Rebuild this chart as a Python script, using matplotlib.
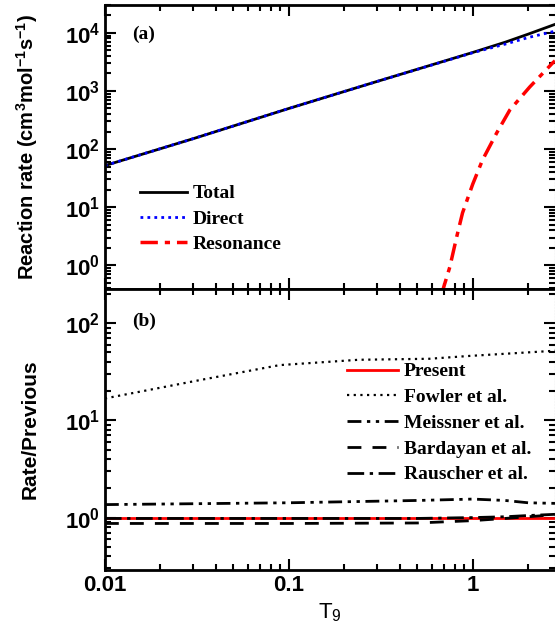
import numpy as np
import matplotlib
matplotlib.use("Agg")
import matplotlib.pyplot as plt

plt.rcParams['font.family'] = 'Liberation Sans'
plt.rcParams['mathtext.fontset'] = 'custom'
plt.rcParams['mathtext.rm'] = 'Liberation Sans'
plt.rcParams['mathtext.bf'] = 'Liberation Sans:bold'
plt.rcParams['mathtext.default'] = 'bf'

# panel (a): reaction rates
t_tot = [0.01, 0.03, 0.1, 0.3, 1.0, 1.5, 2.0, 2.8]
total = [52, 150, 500, 1450, 4600, 6900, 9500, 14000]
t_dir = [0.01, 0.03, 0.1, 0.3, 1.0, 1.5, 2.0, 2.8]
direct = [52, 150, 500, 1450, 4550, 6400, 8300, 10700]
t_res = [0.68, 0.69, 0.75, 0.82, 0.88, 1.0, 1.13, 1.35, 1.59, 2.04, 2.72, 2.8]
resonance = [0.3, 0.39, 0.93, 3.2, 8, 25, 65, 190, 470, 1170, 3040, 3300]

# panel (b): ratios to previous rates
t_b = [0.01, 0.033, 0.089, 0.24, 0.58, 0.96, 2.8]
present = [1, 1, 1, 1, 1, 1, 1]
fowler = [16.8, 26, 37, 42, 43, 46, 52]
t_m = [0.01, 0.1, 0.5, 1.0, 1.5, 2.0, 2.8]
meissner = [1.36, 1.42, 1.5, 1.55, 1.5, 1.42, 1.4]
bardayan = [0.87, 0.87, 0.88, 0.93, 0.98, 1.02, 1.07]
rauscher = [0.98, 0.98, 0.98, 1.0, 1.02, 1.05, 1.08]

fig = plt.figure(figsize=(5.55, 6.41), dpi=100)
ax1 = fig.add_axes([0.189, 0.549, 0.811, 0.443])
ax2 = fig.add_axes([0.189, 0.111, 0.811, 0.438], sharex=ax1)

ax1.plot(t_tot, total, color='black', lw=2, label='Total')
ax1.plot(t_dir, direct, color='blue', lw=2, ls=(0, (1, 1.5)), label='Direct')
ax1.plot(t_res, resonance, color='red', lw=2.5, ls=(0, (5, 2, 1.5, 2)), label='Resonance')

ax2.plot(t_b, present, color='red', lw=2, label='Present')
ax2.plot(t_b, fowler, color='black', lw=1.6, ls=(0, (1, 2)), label='Fowler et al.')
ax2.plot(t_m, meissner, color='black', lw=2, ls=(0, (5, 2, 1.2, 2, 1.2, 2)), label='Meissner et al.')
ax2.plot(t_m, bardayan, color='black', lw=2, ls=(0, (5, 4)), label='Bardayan et al.')
ax2.plot(t_m, rauscher, color='black', lw=2, ls=(0, (6, 2, 1.2, 2)), label='Rauscher et al.')

for ax in (ax1, ax2):
    ax.set_xscale('log')
    ax.set_yscale('log')
    ax.tick_params(which='both', direction='in', top=True, right=True, width=1.5, labelsize=16)
    ax.tick_params(which='major', length=8)
    ax.tick_params(which='minor', length=4.5)
    for s in ax.spines.values():
        s.set_linewidth(2)
    ax.spines['right'].set_linewidth(0.8)
    ax.spines['right'].set_color('gray')
    ax.spines['right'].set_linestyle(':')
    for lab in ax.get_xticklabels() + ax.get_yticklabels():
        lab.set_fontweight('bold')

ax1.set_xlim(0.01, 2.8)
ax1.set_ylim(0.39, 3e4)
ax2.set_ylim(0.29, 224)
ax1.tick_params(labelbottom=False)

ax2.set_xticks([0.01, 0.1, 1])
ax2.set_xticklabels(['0.01', '0.1', '1'], fontweight='bold')

ax1.set_ylabel('Reaction rate (cm$^{\\mathbf{3}}$mol$^{\\mathbf{-1}}$s$^{\\mathbf{-1}}$)',
               fontsize=14.5, fontweight='bold')
ax2.set_ylabel('Rate/Previous', fontsize=15, fontweight='bold')
ax1.yaxis.set_label_coords(-0.145, 0.5)
ax2.yaxis.set_label_coords(-0.145, 0.5)
ax2.set_xlabel('T$_\\mathrm{9}$', fontsize=16)

ax1.text(0.06, 0.88, '(a)', transform=ax1.transAxes, family='Liberation Serif',
         fontweight='bold', fontsize=14)
ax2.text(0.06, 0.87, '(b)', transform=ax2.transAxes, family='Liberation Serif',
         fontweight='bold', fontsize=14)

leg_font = {'family': 'Liberation Serif', 'weight': 'bold', 'size': 14}
ax1.legend(loc='lower left', bbox_to_anchor=(0.04, 0.065), frameon=False, prop=leg_font,
           handlelength=2.4, handletextpad=0.3, labelspacing=0.4)
ax2.legend(loc='upper left', bbox_to_anchor=(0.5, 0.8), frameon=False, prop=leg_font,
           handlelength=2.6, handletextpad=0.3, labelspacing=0.42)

fig.savefig('out.png', dpi=100)
